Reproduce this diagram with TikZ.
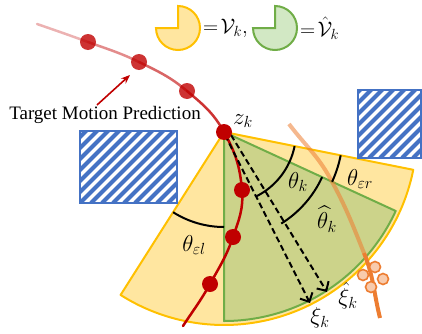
\RequirePackage{fix-cm}
\documentclass[tikz,border=0pt]{standalone}
\usepackage{amsmath,amssymb}
\usepackage{fontspec}
\setmainfont{Liberation Serif}
\usepackage{tikz}
\usetikzlibrary{arrows.meta}

\definecolor{trajred}{RGB}{192,0,0}
\definecolor{secyellow}{RGB}{255,230,160}
\definecolor{secyellowline}{RGB}{255,192,0}
\definecolor{secgreen}{RGB}{204,211,138}
\definecolor{secgreenline}{RGB}{112,173,71}
\definecolor{legendgreen}{RGB}{210,232,196}
\definecolor{hatchblue}{RGB}{68,114,196}
\definecolor{obsorange}{RGB}{237,125,49}
\definecolor{obslight}{RGB}{248,203,173}

\begin{document}
\begin{tikzpicture}[x=1pt, y=1pt,
    every node/.style={font=\fontsize{19}{22}\selectfont, inner sep=1pt},
    mathlab/.style={font=\fontsize{23}{26}\selectfont, inner sep=0pt},
    legendlab/.style={font=\fontsize{21}{24}\selectfont, inner sep=0pt, anchor=west},
    traj/.style={line width=2.5pt, line cap=round},
    dot/.style={circle, fill=trajred, minimum size=16pt, inner sep=0pt},
    fadedot/.style={dot, fill opacity=0.8},
    sector/.style={line width=2pt, line join=round},
    angmark/.style={line width=2pt},
    dasharrow/.style={dash pattern=on 6pt off 3.5pt, line width=2pt, -{Straight Barb[length=7pt, width=14pt, line width=2pt]}},
    hatchbox/.style={draw=hatchblue, line width=1.6pt},
    flower/.style={circle, draw=obsorange, fill=obslight, line width=1.6pt, minimum size=11pt, inner sep=0pt}
]
\useasboundingbox (0,0) rectangle (422,333);

\coordinate (zk) at (224,201);

% sectors
\filldraw[sector, fill=secyellow, draw=secyellowline] (zk) -- ++(-122.4:193) arc[start angle=-122.4, end angle=-11.3, radius=193] -- cycle;
\filldraw[sector, fill=secgreen, draw=secgreenline] (zk) -- ++(-90:189) arc[start angle=-90, end angle=-24.7, radius=189] -- cycle;

% obstacles
\foreach \xa/\ya/\xb/\yb in {80/130/177/202, 358/175/421/243} {
  \begin{scope}
    \clip (\xa,\ya) rectangle (\xb,\yb);
    \foreach \s in {-110,-99,...,110}
      \draw[hatchblue, line width=4pt] (\xa+\s,\ya) -- ++(120,120);
  \end{scope}
  \draw[hatchbox] (\xa,\ya) rectangle (\xb,\yb);
}

% other vehicle
\draw[obsorange, opacity=0.55, line width=4pt] (289,209) to[out=-53, in=119] (330,155) to[out=-61, in=112] (364,80);
\draw[obsorange, line width=4pt] (364,80) to[out=-68, in=104] (380,15);
\node[flower] at (363,58) (f1) {};
\node[flower] at (375,66) (f2) {};
\node[flower] at (383,54) (f3) {};
\node[flower] at (371,46) (f4) {};

% angles
\draw[angmark] (zk) ++(-11.3:72) arc[start angle=-11.3, end angle=-63, radius=72];
\draw[angmark] (zk) ++(-24.7:108) arc[start angle=-24.7, end angle=-58, radius=108];
\draw[angmark] (zk) ++(-11.3:119) arc[start angle=-11.3, end angle=-24.7, radius=119];
\draw[angmark] (zk) ++(-122.4:95) arc[start angle=-122.4, end angle=-90, radius=95];

% predicted trajectory
\coordinate (p0) at (37,309);
\coordinate (p1) at (88,291);
\coordinate (p2) at (139,271);
\coordinate (p3) at (187,242);
\coordinate (p5) at (242,143);
\coordinate (p6) at (233,96);
\coordinate (p7) at (210,49);
\coordinate (p8) at (183,7);
\draw[traj, trajred!30] (p0) to[out=-19, in=160] (p1);
\draw[traj, trajred!45] (p1) to[out=-20, in=154] (p2);
\draw[traj, trajred!60] (p2) to[out=-26, in=140] (p3);
\draw[traj, trajred!80] (p3) to[out=-40, in=119] (zk);
\draw[traj, trajred] (zk) to[out=-61, in=95] (p5) to[out=-85, in=71] (p6)
  to[out=-109, in=61] (p7) to[out=-119, in=57] (p8);

% directions
\coordinate (xs) at (225,198);
\coordinate (xe) at (310,30);
\coordinate (hs) at (231,198);
\coordinate (he) at (327,41);
\draw[dasharrow] (xs) -- (xe);
\draw[dasharrow] (hs) -- (he);

\node[fadedot] at (p1) (d1) {};
\node[fadedot] at (p2) (d2) {};
\node[fadedot] at (p3) (d3) {};
\node[dot] at (zk) (d4) {};
\node[dot] at (p5) (d5) {};
\node[dot] at (p6) (d6) {};
\node[dot] at (p7) (d7) {};

% labels
\node[mathlab] at (243,212) (zlab) {$z_k$};
\node[mathlab] at (298,151) (thk) {$\theta_k$};
\node[mathlab] at (327,114) (thhat) {$\widehat{\theta}_k$};
\node[mathlab] at (360,154) (ther) {$\theta_{\varepsilon r}$};
\node[mathlab] at (194,88) (thel) {$\theta_{\varepsilon l}$};
\node[mathlab] at (320,15) (xi) {$\xi_k$};
\node[mathlab] at (348,37) (xihat) {$\hat{\xi}_k$};

\node at (105,218) (tmp) {Target Motion Prediction};
\coordinate (tmptail) at (97,228);
\coordinate (tmphead) at (130,258);
\draw[trajred, line width=1.6pt, -{Stealth[length=9pt, width=7pt]}] (tmptail) -- (tmphead);

% legend
\filldraw[line width=2pt, fill=secyellow, draw=secyellowline] (178,305) -- ++(180:22) arc[start angle=180, end angle=450, radius=22] -- cycle;
\node[legendlab] at (203,305) (leg1) {$=\!\mathcal{V}_k,$};
\filldraw[line width=2pt, fill=legendgreen, draw=secgreenline] (275,305) -- ++(180:22) arc[start angle=180, end angle=450, radius=22] -- cycle;
\node[legendlab] at (300,305) (leg2) {$=\!\hat{\mathcal{V}}_k$};
\end{tikzpicture}
\end{document}
